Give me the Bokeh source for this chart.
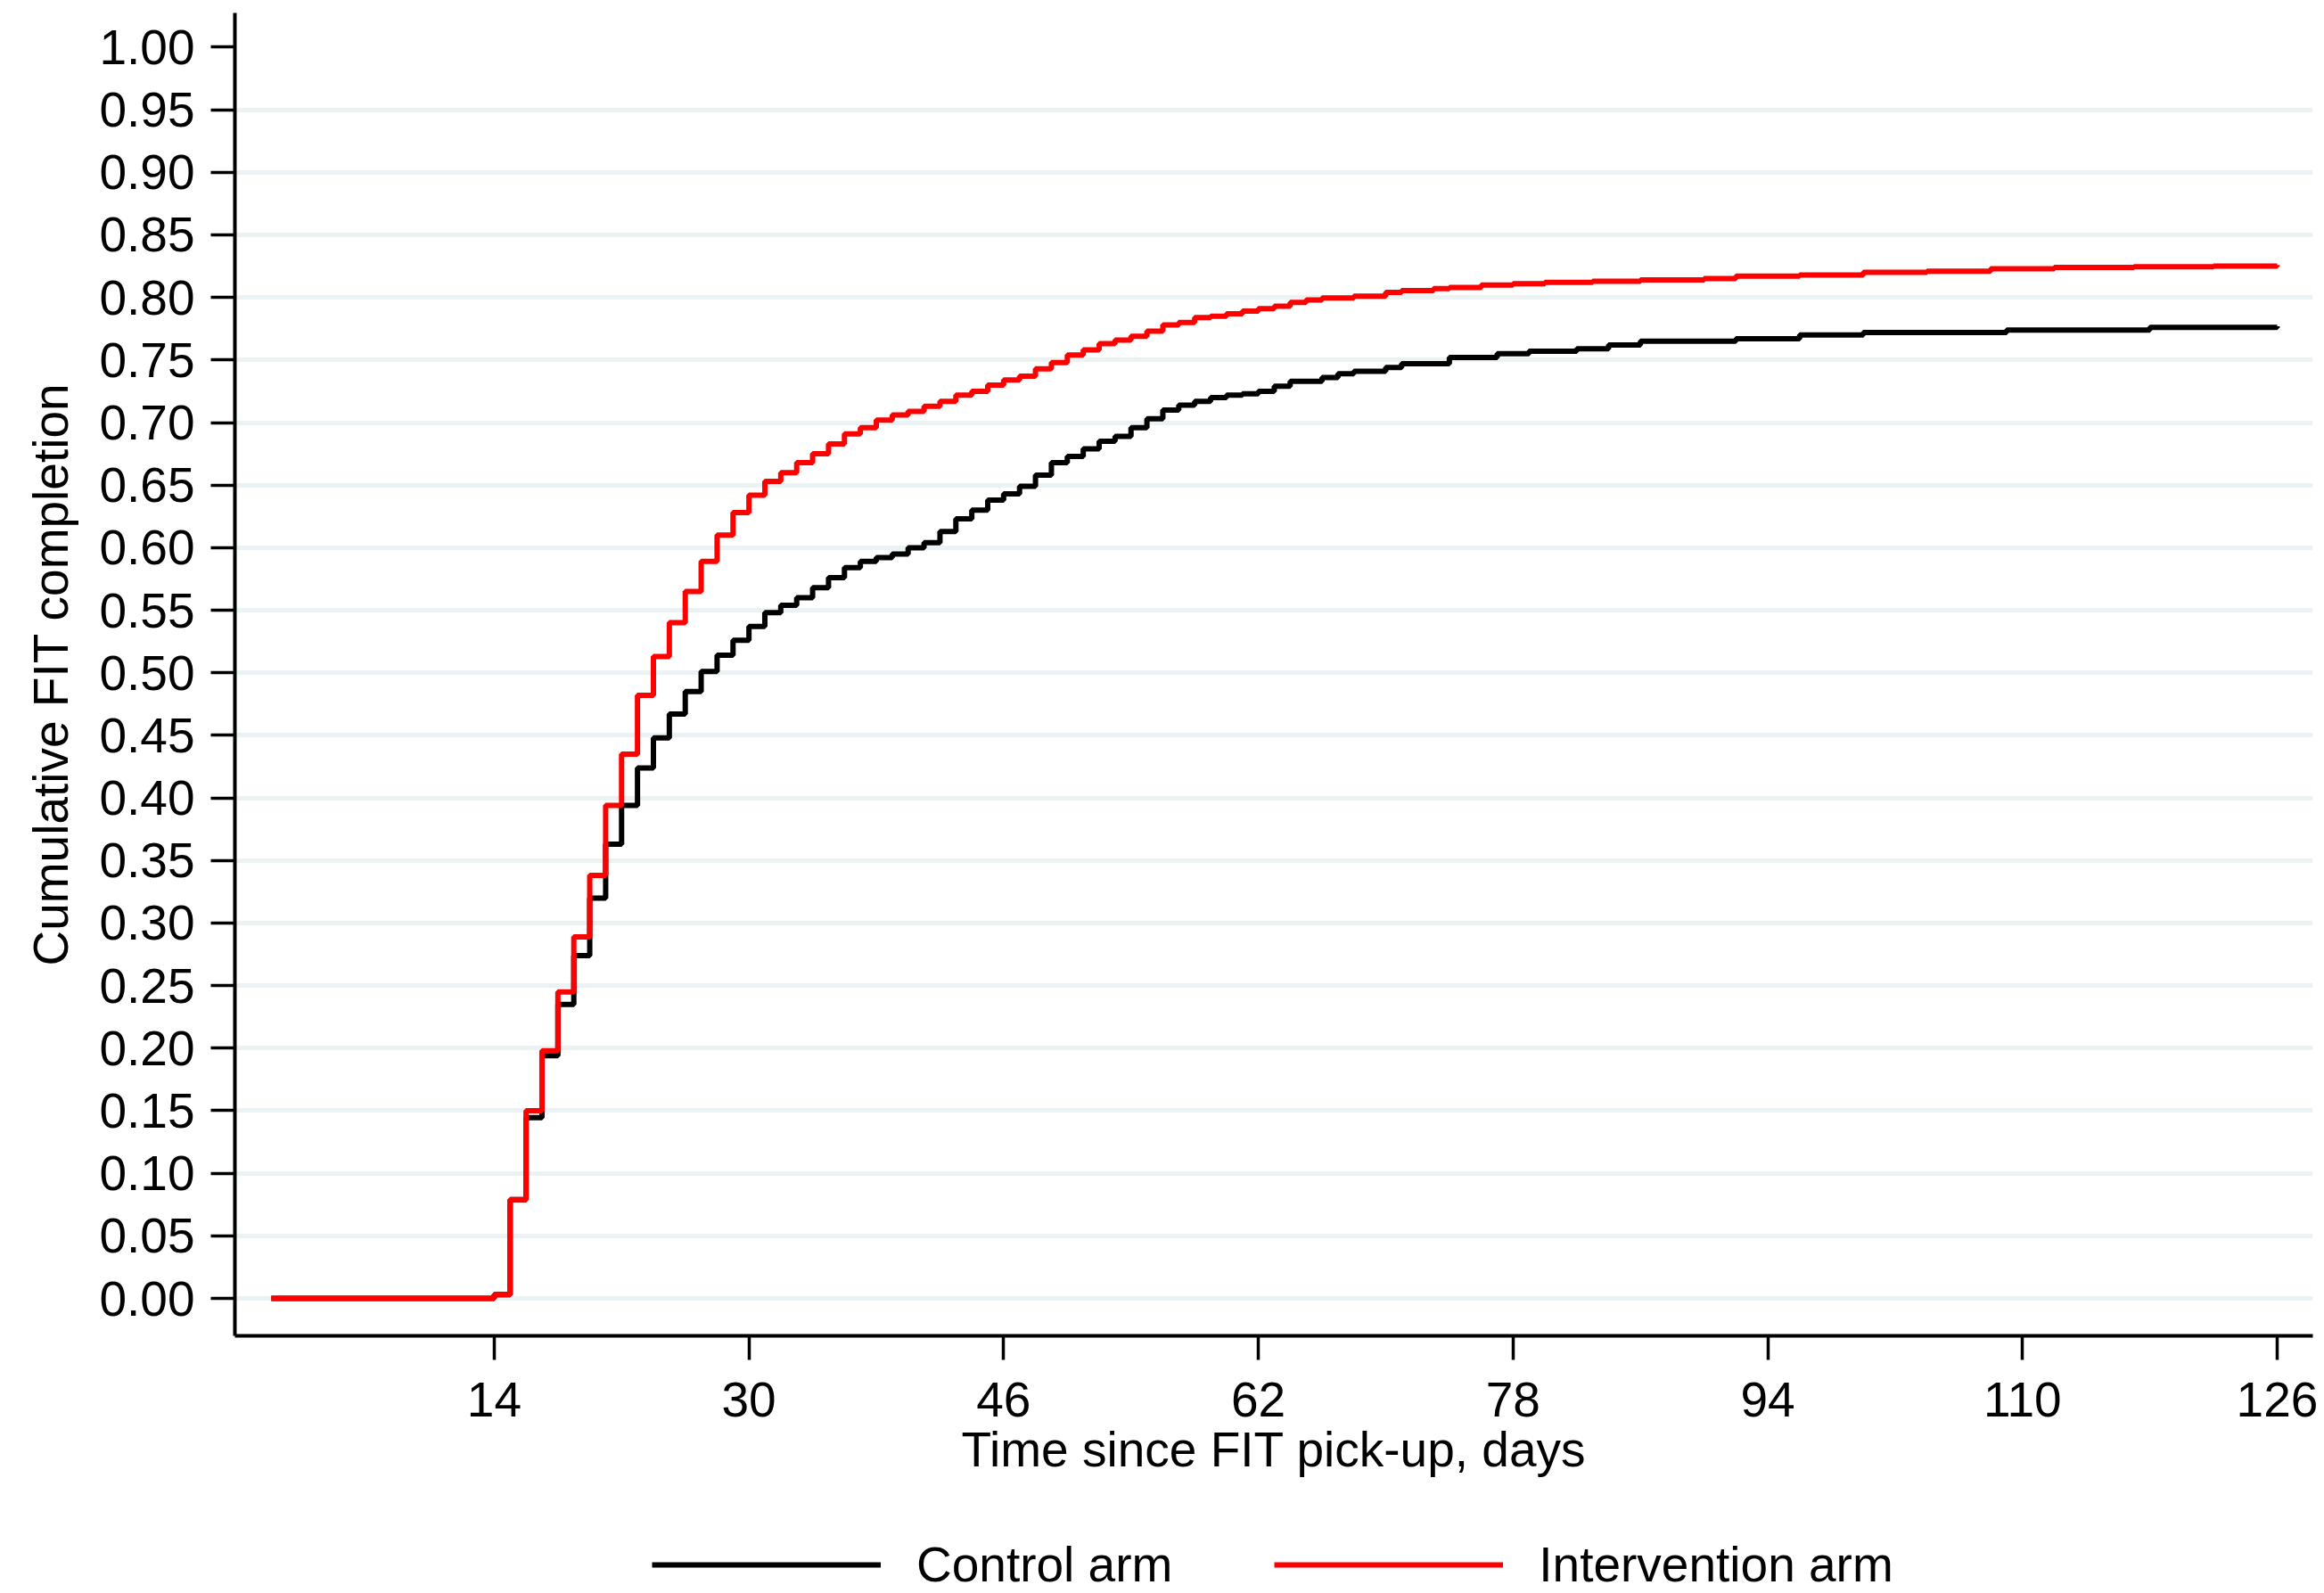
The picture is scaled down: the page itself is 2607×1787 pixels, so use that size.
from bokeh.plotting import figure
from bokeh.layouts import column
from bokeh.models import (FixedTicker, NumeralTickFormatter, Range1d, Legend,
                          LegendItem, ColumnDataSource)
from bokeh.embed import file_html
from bokeh.resources import INLINE

# ---- data ----
control_days = [0, 14, 15, 16, 17, 18, 19, 20, 21, 22, 23, 24, 25, 26, 27, 28, 29,
                30, 31, 32, 33, 34, 35, 36, 37, 38, 39, 40, 41, 42, 43, 44, 45, 46,
                47, 48, 49, 50, 51, 52, 53, 54, 55, 56, 57, 58, 59, 60, 61, 62, 63,
                64, 66, 67, 68, 70, 71, 74, 77, 79, 82, 84, 86, 92, 96, 100, 109,
                118, 126]
control_vals = [0.000, 0.003, 0.079, 0.1445, 0.194, 0.235, 0.274, 0.320, 0.363,
                0.394, 0.424, 0.448, 0.467, 0.485, 0.501, 0.514, 0.526, 0.537,
                0.548, 0.554, 0.560, 0.568, 0.576, 0.584, 0.589, 0.592, 0.595,
                0.600, 0.604, 0.613, 0.623, 0.630, 0.638, 0.643, 0.649, 0.658,
                0.668, 0.673, 0.679, 0.685, 0.689, 0.696, 0.703, 0.710, 0.714,
                0.717, 0.720, 0.722, 0.723, 0.725, 0.729, 0.733, 0.736, 0.739,
                0.741, 0.744, 0.747, 0.752, 0.755, 0.757, 0.759, 0.762, 0.765,
                0.767, 0.770, 0.772, 0.774, 0.776, 0.777]

interv_days = [0, 14, 15, 16, 17, 18, 19, 20, 21, 22, 23, 24, 25, 26, 27, 28, 29,
               30, 31, 32, 33, 34, 35, 36, 37, 38, 39, 40, 41, 42, 43, 44, 45, 46,
               47, 48, 49, 50, 51, 52, 53, 54, 55, 56, 57, 58, 59, 60, 61, 62, 63,
               64, 65, 66, 68, 70, 71, 73, 74, 76, 78, 80, 83, 86, 90, 92, 96, 100,
               104, 108, 112, 117, 122, 126]
interv_vals = [0.000, 0.003, 0.079, 0.150, 0.198, 0.245, 0.289, 0.338, 0.394,
               0.435, 0.482, 0.513, 0.540, 0.565, 0.589, 0.610, 0.628, 0.642,
               0.653, 0.660, 0.668, 0.675, 0.683, 0.691, 0.696, 0.702, 0.706,
               0.709, 0.713, 0.717, 0.722, 0.725, 0.730, 0.734, 0.737, 0.743,
               0.748, 0.754, 0.758, 0.763, 0.766, 0.769, 0.773, 0.778, 0.780,
               0.784, 0.785, 0.787, 0.789, 0.791, 0.793, 0.796, 0.798, 0.7995,
               0.801, 0.804, 0.8055, 0.807, 0.808, 0.810, 0.811, 0.812, 0.813,
               0.814, 0.815, 0.817, 0.818, 0.820, 0.821, 0.823, 0.824, 0.8245,
               0.825, 0.826]

x_ticks = [14, 30, 46, 62, 78, 94, 110, 126]
y_ticks = [0.00, 0.05, 0.10, 0.15, 0.20, 0.25, 0.30, 0.35, 0.40, 0.45, 0.50,
           0.55, 0.60, 0.65, 0.70, 0.75, 0.80, 0.85, 0.90, 0.95, 1.00]
series_labels = ["Control arm", "Intervention arm"]
series_colors = ["#000000", "#FF0000"]

FONT = "Liberation Sans"
FS = "55px"
LW = 6

W = 2600
H_MAIN = 1722
H_LEG = 65

p = figure(width=W, height=H_MAIN,
           x_range=Range1d(-2.29, 128.24), y_range=Range1d(-0.0299, 1.0274),
           output_backend="svg", toolbar_location=None,
           min_border_left=263, min_border_right=W - 2594,
           min_border_top=14, min_border_bottom=H_MAIN - 1498)
p.outline_line_color = None
p.background_fill_color = "white"
p.border_fill_color = "white"

# grid
p.xgrid.visible = False
p.ygrid.ticker = FixedTicker(ticks=[t for t in y_ticks if t < 1.0])
p.ygrid.grid_line_color = "#EAF2F3"
p.ygrid.grid_line_width = 5

# axes
for ax in (p.xaxis[0], p.yaxis[0]):
    ax.axis_line_color = "black"
    ax.axis_line_width = 4
    ax.major_tick_line_color = "black"
    ax.major_tick_line_width = 3.5
    ax.major_tick_out = 27
    ax.major_tick_in = 0
    ax.minor_tick_out = 0
    ax.minor_tick_in = 0
    ax.major_label_text_font = FONT
    ax.major_label_text_font_size = FS
    ax.major_label_text_color = "black"
    ax.axis_label_text_font = FONT
    ax.axis_label_text_font_size = FS
    ax.axis_label_text_font_style = "normal"
    ax.axis_label_text_color = "black"

p.xaxis.ticker = FixedTicker(ticks=x_ticks)
p.xaxis.major_label_standoff = 25
p.xaxis.axis_label = "Time since FIT pick-up, days"
p.xaxis.axis_label_standoff = 3

p.yaxis.ticker = FixedTicker(ticks=y_ticks)
p.yaxis.formatter = NumeralTickFormatter(format="0.00")
p.yaxis.major_label_standoff = 18
p.yaxis.axis_label = "Cumulative FIT completion"
p.yaxis.axis_label_standoff = 20

src_c = ColumnDataSource(dict(x=control_days, y=control_vals))
src_i = ColumnDataSource(dict(x=interv_days, y=interv_vals))
p.step(x="x", y="y", source=src_c, mode="after",
       line_color=series_colors[0], line_width=LW)
p.step(x="x", y="y", source=src_i, mode="after",
       line_color=series_colors[1], line_width=LW)

# ---- legend strip below the chart (same series; its ranges keep them out of view) ----
pl = figure(width=W, height=H_LEG, x_range=Range1d(0, 1), y_range=Range1d(5, 6),
            output_backend="svg", toolbar_location=None,
            min_border=0, min_border_left=0, min_border_right=0,
            min_border_top=0, min_border_bottom=0,
            x_axis_type=None, y_axis_type=None)
pl.outline_line_color = None
pl.background_fill_color = "white"
pl.border_fill_color = "white"
key_c = pl.step(x="x", y="y", source=src_c, mode="after",
                line_color=series_colors[0], line_width=LW)
key_i = pl.step(x="x", y="y", source=src_i, mode="after",
                line_color=series_colors[1], line_width=LW)

legend = Legend(items=[LegendItem(label=series_labels[0], renderers=[key_c]),
                       LegendItem(label=series_labels[1], renderers=[key_i])],
                orientation="horizontal", location=(468, 0),
                glyph_width=257, glyph_height=40, label_standoff=40,
                spacing=114, padding=0, margin=0,
                border_line_color=None, background_fill_alpha=0,
                label_text_font=FONT, label_text_font_size=FS,
                label_text_color="black")
pl.add_layout(legend)

layout = column(p, pl, spacing=0)
open("out.html", "w").write(file_html(layout, INLINE))
